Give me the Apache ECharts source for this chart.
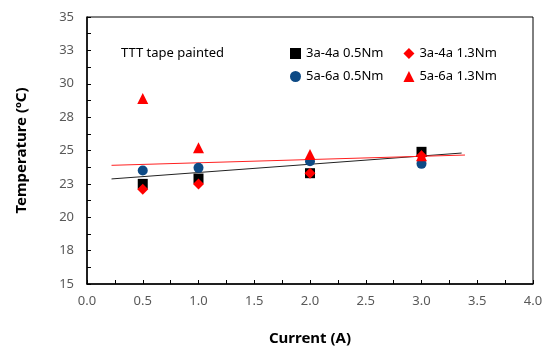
<!DOCTYPE html>
<html>
<head>
<meta charset="utf-8">
<script src="https://cdn.jsdelivr.net/npm/echarts@6/dist/echarts.min.js"></script>
<style>html,body{margin:0;padding:0;background:#fff}#c{width:550px;height:356px}</style>
</head>
<body>
<div id="c"></div>
<script>
const currents = [0.5, 1.0, 2.0, 3.0];
const sq_3a4a_05 = [22.5, 22.9, 23.3, 24.9];
const dia_3a4a_13 = [22.1, 22.5, 23.3, 24.6];
const circ_5a6a_05 = [23.5, 23.7, 24.2, 24.0];
const tri_5a6a_13 = [28.9, 25.2, 24.7, 24.6];
const trendBlackX = [0.22, 3.36];
const trendBlackY = [22.87, 24.81];
const trendRedX = [0.22, 3.39];
const trendRedY = [23.89, 24.66];
const seriesNames = ['3a-4a 0.5Nm', '3a-4a 1.3Nm', '5a-6a 0.5Nm', '5a-6a 1.3Nm'];
const annotation = 'TTT tape painted';
const xTitle = 'Current (A)';
const yTitle = 'Temperature (\u00BAC)';

const font = '"Noto Sans", "Open Sans", sans-serif';
const pts = (ys) => currents.map((x, i) => [x, ys[i]]);
const line = (xs, ys) => xs.map((x, i) => [x, ys[i]]);

const chart = echarts.init(document.getElementById('c'), null, {renderer: 'canvas'});
chart.setOption({
  animation: false,
  textStyle: {fontFamily: font},
  title: {
    text: annotation, left: 116, top: 42,
    textStyle: {fontSize: 13, fontWeight: 'normal', color: '#000', fontFamily: font}
  },
  grid: {left: 87, right: 17, top: 17, bottom: 72, show: true, borderColor: '#000', borderWidth: 1},
  legend: [
    {data: [seriesNames[0], seriesNames[1]], left: 285, top: 42, itemWidth: 11, itemHeight: 11, itemGap: 20,
     textStyle: {fontSize: 13, color: '#000', fontFamily: font}},
    {data: [seriesNames[2], seriesNames[3]], left: 285, top: 65, itemWidth: 11, itemHeight: 11, itemGap: 20,
     textStyle: {fontSize: 13, color: '#000', fontFamily: font}}
  ],
  xAxis: {
    type: 'value', min: 0, max: 4, interval: 0.25,
    name: xTitle, nameLocation: 'middle', nameGap: 47,
    nameTextStyle: {fontSize: 15, fontWeight: 'bold', color: '#000', fontFamily: font},
    axisLine: {lineStyle: {color: '#000', width: 1.5}},
    axisTick: {inside: true, length: 4, lineStyle: {color: '#000'}},
    splitLine: {show: false},
    axisLabel: {
      margin: 11, fontSize: 13, color: '#595959', fontFamily: font,
      formatter: v => (Math.abs(v * 2 - Math.round(v * 2)) < 1e-6 ? v.toFixed(1) : '')
    }
  },
  yAxis: {
    type: 'value', min: 15, max: 35, interval: 1.25,
    name: yTitle, nameLocation: 'middle', nameGap: 58,
    nameTextStyle: {fontSize: 15, fontWeight: 'bold', color: '#000', fontFamily: font},
    axisLine: {show: true, lineStyle: {color: '#000', width: 1.5}},
    axisTick: {show: true, inside: true, length: 4, lineStyle: {color: '#000'}},
    splitLine: {show: false},
    axisLabel: {
      margin: 13, fontSize: 13, color: '#595959', fontFamily: font,
      formatter: v => {
        const k = (v - 15) / 2.5;
        return Math.abs(k - Math.round(k)) < 1e-6 ? String(Math.round(v)) : '';
      }
    }
  },
  series: [
    {name: 'trendBlack', type: 'line', data: line(trendBlackX, trendBlackY), symbol: 'none',
     lineStyle: {color: '#222', width: 1}, z: 1, silent: true},
    {name: 'trendRed', type: 'line', data: line(trendRedX, trendRedY), symbol: 'none',
     lineStyle: {color: '#ff2020', width: 1}, z: 1, silent: true},
    {name: seriesNames[0], type: 'scatter', data: pts(sq_3a4a_05), symbol: 'rect', symbolSize: 10,
     itemStyle: {color: '#000', opacity: 1}, z: 2},
    {name: seriesNames[2], type: 'scatter', data: pts(circ_5a6a_05), symbol: 'circle', symbolSize: 10,
     itemStyle: {color: '#0d4a85', opacity: 1}, z: 3},
    {name: seriesNames[3], type: 'scatter', data: pts(tri_5a6a_13), symbol: 'triangle', symbolSize: 11,
     itemStyle: {color: '#ff0000', opacity: 1}, z: 4},
    {name: seriesNames[1], type: 'scatter', data: pts(dia_3a4a_13), symbol: 'diamond', symbolSize: 11,
     itemStyle: {color: '#ff0000', opacity: 1}, z: 5}
  ]
});
</script>
</body>
</html>
